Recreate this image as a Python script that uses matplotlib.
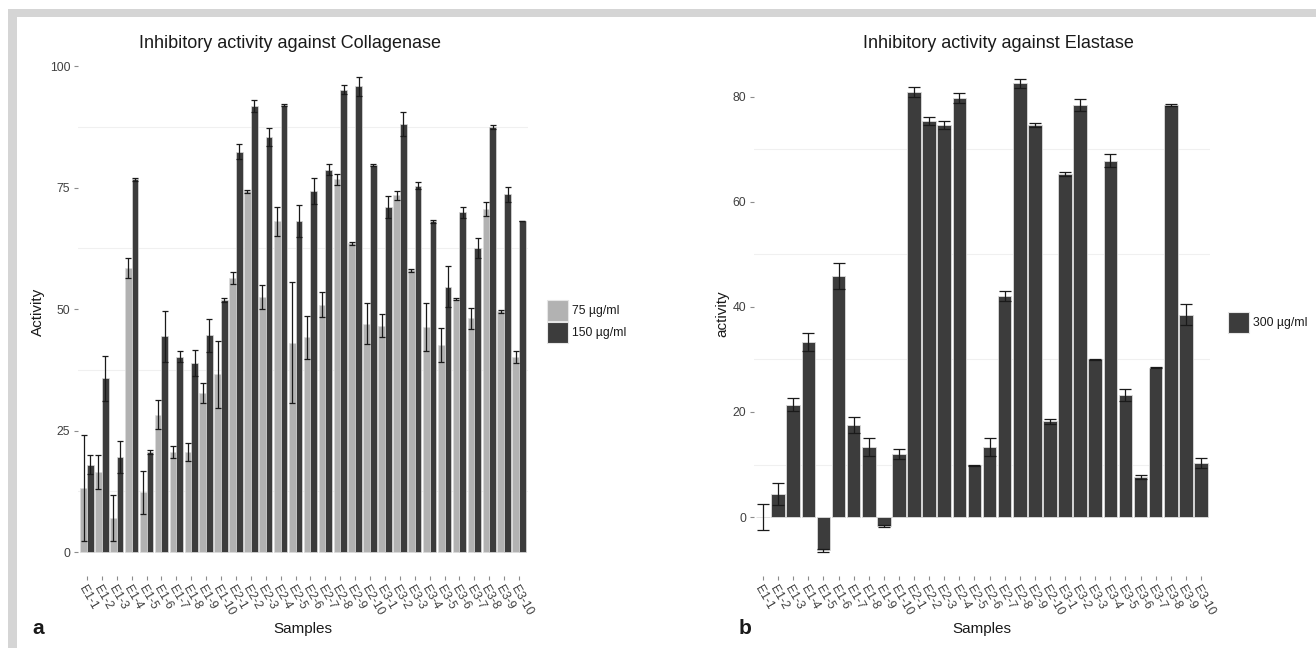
import matplotlib
matplotlib.use("Agg")
import matplotlib.pyplot as plt
from matplotlib.patches import Rectangle
import numpy as np

plt.rcParams['font.family'] = ['Liberation Sans', 'DejaVu Sans']

samples = ["E%d-%d" % (g, i) for g in (1, 2, 3) for i in range(1, 11)]

# Collagenase, 75 ug/ml
coll_75 = [13.2, 16.5, 7.1, 58.5, 12.3, 28.3, 20.6, 20.6, 32.7, 36.6,
           56.4, 74.2, 52.5, 68.1, 43.1, 44.2, 50.9, 76.7, 63.5, 47.0,
           46.6, 73.4, 58.0, 46.3, 42.7, 52.1, 48.1, 70.6, 49.6, 40.2]
coll_75_err = [11.0, 3.5, 4.7, 2.0, 4.4, 3.0, 1.3, 1.9, 2.1, 6.9,
               1.2, 0.4, 2.4, 3.0, 12.4, 4.4, 2.6, 1.1, 0.4, 4.2,
               2.4, 0.9, 0.3, 5.0, 3.5, 0.2, 2.1, 1.5, 0.3, 1.2]
# Collagenase, 150 ug/ml
coll_150 = [18.0, 35.8, 19.5, 76.7, 20.6, 44.4, 40.2, 38.9, 44.6, 51.8,
            82.4, 91.8, 85.4, 92.0, 68.1, 74.3, 78.7, 95.1, 95.8, 79.7,
            71.0, 88.1, 75.4, 68.1, 54.6, 69.9, 62.6, 87.5, 73.6, 68.1]
coll_150_err = [2.0, 4.6, 3.3, 0.3, 0.5, 5.3, 1.1, 2.6, 3.4, 0.4,
                1.5, 1.3, 1.8, 0.2, 3.3, 2.6, 1.1, 0.9, 1.9, 0.2,
                2.2, 2.5, 0.7, 0.3, 4.2, 1.1, 2.0, 0.4, 1.5, 0.0]
# Elastase, 300 ug/ml
elas_300 = [0.0, 4.4, 21.4, 33.3, -6.3, 45.9, 17.5, 13.3, -1.7, 12.0,
            80.9, 75.3, 74.6, 79.7, 9.9, 13.4, 42.1, 82.5, 74.6, 18.2,
            65.3, 78.4, 30.0, 67.8, 23.2, 7.6, 28.4, 78.4, 38.5, 10.3]
elas_300_err = [2.5, 2.0, 1.3, 1.7, 0.3, 2.5, 1.5, 1.7, 0.2, 1.0,
                1.0, 0.8, 0.7, 1.0, 0.1, 1.7, 1.0, 0.9, 0.4, 0.4,
                0.4, 1.1, 0.1, 1.2, 1.1, 0.4, 0.1, 0.2, 2.0, 1.0]

W, H = 1316, 648
LIGHT = "#b2b2b2"
DARK = "#3c3c3c"
EDGE = "#dcdcdc"
TXT = "#404040"


def box(x0, y0, x1, y1):
    # pixel box (top-left origin) -> figure fraction rect
    return [x0 / W, 1 - y1 / H, (x1 - x0) / W, (y1 - y0) / H]


def style(ax, minor):
    for s in ax.spines.values():
        s.set_visible(False)
    ax.set_facecolor("white")
    for m in minor:
        ax.axhline(m, color="#f0f0f0", lw=0.8, zorder=0)
    ax.tick_params(axis="both", length=3, color="#8c8c8c", labelsize=8.8,
                   labelcolor=TXT, width=0.8, pad=2.5)
    ax.set_xticks(np.arange(len(samples)))
    ax.set_xticklabels(samples, rotation=-60, ha="left", va="top",
                       rotation_mode="anchor", fontsize=8.8)


fig = plt.figure(figsize=(W / 100, H / 100), dpi=100)
fig.patch.set_facecolor("white")

# grey frame top and left
fig.add_artist(Rectangle((8 / W, 0), 9 / W, (H - 9) / H,
                         transform=fig.transFigure, color="#d5d5d5", lw=0))
fig.add_artist(Rectangle((8 / W, 1 - 17 / H), 1 - 8 / W, 8 / H,
                         transform=fig.transFigure, color="#d5d5d5", lw=0))

x = np.arange(len(samples))

# ---- left: collagenase
ax1 = fig.add_axes(box(78, 50, 528, 576))
bw = 0.45
ax1.bar(x - bw / 2, coll_75, bw, color=LIGHT, edgecolor=EDGE, lw=0.5, zorder=2)
ax1.bar(x + bw / 2, coll_150, bw, color=DARK, edgecolor=EDGE, lw=0.5, zorder=2)
ax1.errorbar(x - bw / 2, coll_75, yerr=coll_75_err, fmt="none", ecolor="#1a1a1a",
             elinewidth=0.9, capsize=2.2, capthick=0.9, zorder=3)
ax1.errorbar(x + bw / 2, coll_150, yerr=coll_150_err, fmt="none", ecolor="#1a1a1a",
             elinewidth=0.9, capsize=2.2, capthick=0.9, zorder=3)
ax1.set_xlim(-0.6, len(samples) - 0.4)
ax1.set_ylim(-4.9, 103.3)
ax1.set_yticks([0, 25, 50, 75, 100])
style(ax1, [12.5, 37.5, 62.5, 87.5])

# ---- right: elastase
ax2 = fig.add_axes(box(754, 55, 1210, 576))
ax2.bar(x, elas_300, 0.9, color=DARK, edgecolor=EDGE, lw=0.6, zorder=2)
ax2.errorbar(x, elas_300, yerr=elas_300_err, fmt="none", ecolor="#1a1a1a",
             elinewidth=0.9, capsize=4, capthick=0.9, zorder=3)
ax2.set_xlim(-0.6, len(samples) - 0.4)
ax2.set_ylim(-11.2, 87.9)
ax2.set_yticks([0, 20, 40, 60, 80])
style(ax2, [10, 30, 50, 70])

# titles and axis labels
fig.text(290 / W, 1 - 43 / H, "Inhibitory activity against Collagenase",
         ha="center", va="center", fontsize=13, color="#1a1a1a")
fig.text(998 / W, 1 - 43 / H, "Inhibitory activity against Elastase",
         ha="center", va="center", fontsize=13, color="#1a1a1a")
fig.text(38 / W, 1 - 312 / H, "Activity", rotation=90, ha="center",
         va="center", fontsize=11, color="#1a1a1a")
fig.text(722 / W, 1 - 314 / H, "activity", rotation=90, ha="center",
         va="center", fontsize=11, color="#1a1a1a")
fig.text(303 / W, 1 - 629 / H, "Samples", ha="center", va="center",
         fontsize=11, color="#1a1a1a")
fig.text(982 / W, 1 - 629 / H, "Samples", ha="center", va="center",
         fontsize=11, color="#1a1a1a")
fig.text(38 / W, 1 - 629 / H, "a", ha="center", va="center", fontsize=15,
         fontweight="bold", color="#1a1a1a")
fig.text(745 / W, 1 - 629 / H, "b", ha="center", va="center", fontsize=15,
         fontweight="bold", color="#1a1a1a")

# legends drawn as keys
legend_items = [((547, 300), LIGHT, "75 µg/ml"), ((547, 322), DARK, "150 µg/ml"),
                ((1228, 312), DARK, "300 µg/ml")]
for (lx, ly), col, lab in legend_items:
    fig.add_artist(Rectangle((lx / W, 1 - (ly + 21) / H), 21 / W, 21 / H,
                             transform=fig.transFigure, facecolor=col,
                             edgecolor="#e6e6e6", lw=0.8))
    fig.text((lx + 25) / W, 1 - (ly + 11) / H, lab, ha="left", va="center",
             fontsize=8.8, color="#1a1a1a")

fig.savefig("out.png", dpi=100)
